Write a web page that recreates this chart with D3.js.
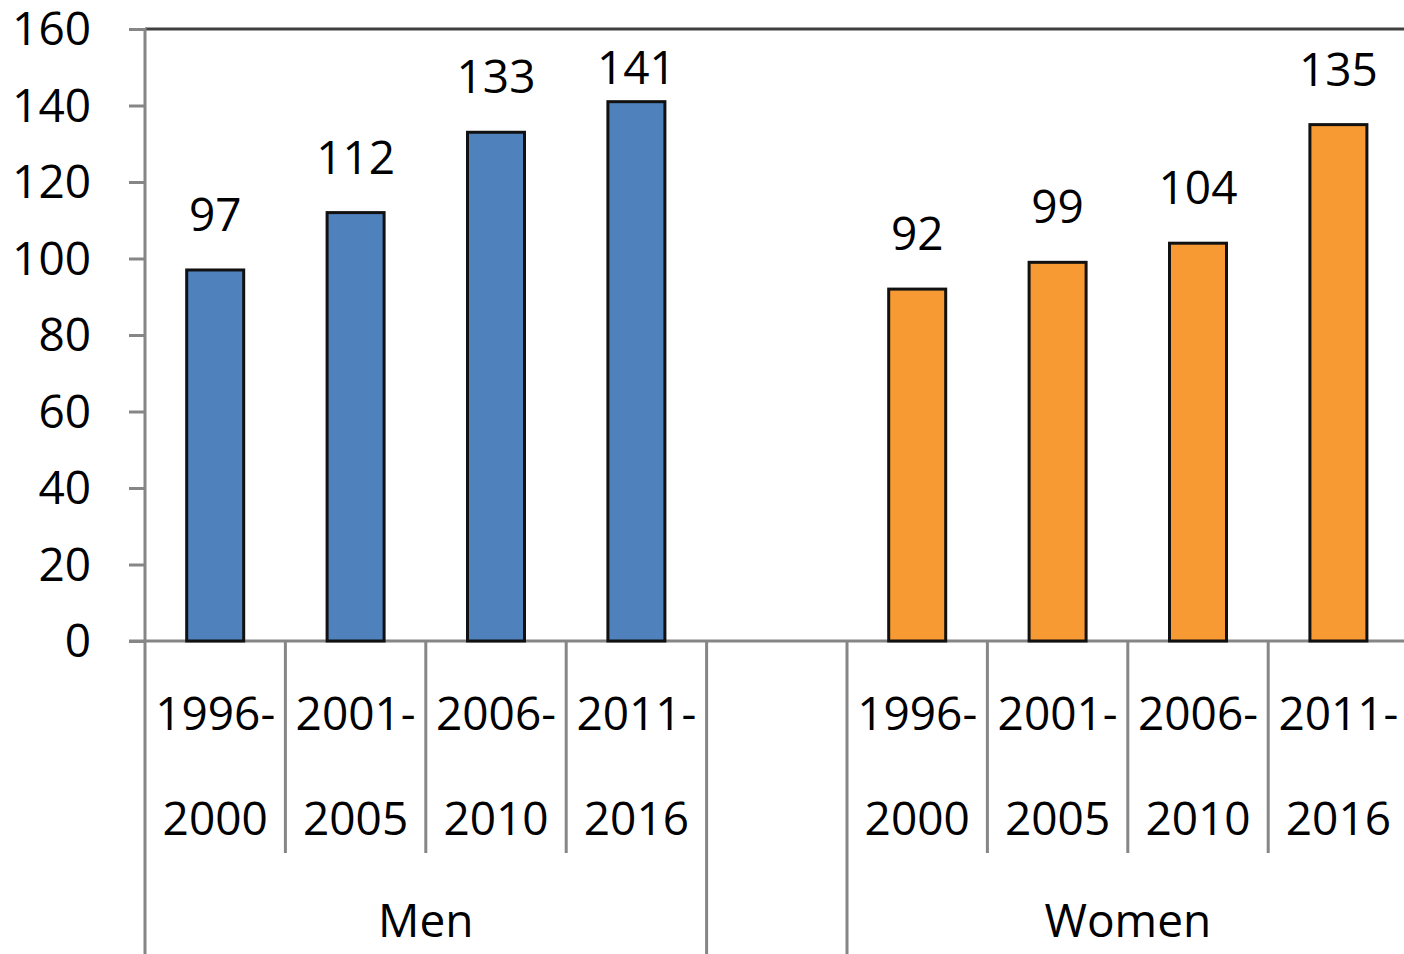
<!DOCTYPE html>
<html>
<head>
<meta charset="utf-8">
<script src="https://cdn.jsdelivr.net/npm/d3@7"></script>
<style>
  body { margin: 0; background: #fff; }
  text { font-family: "Open Sans", "Noto Sans", sans-serif; fill: #000; }
</style>
</head>
<body>
<div id="chart"></div>
<script>
// data
var periods = ['1996-2000', '2001-2005', '2006-2010', '2011-2016'];
var groups = ['Men', 'Women'];
var menValues = [97, 112, 133, 141];
var womenValues = [92, 99, 104, 135];
var yTicks = [0, 20, 40, 60, 80, 100, 120, 140, 160];
var colors = { Men: '#4f81bd', Women: '#f79a33' };

var width = 1404,
  height = 954,
  fs = 46;

var svg = d3.select('#chart').append('svg')
    .attr('width', width)
    .attr('height', height);

// slots: 4 men, 1 empty, 4 women
var slots = [];
periods.forEach(function(p) { slots.push('Men|' + p); });
slots.push('gap');
periods.forEach(function(p) { slots.push('Women|' + p); });

var rows = [];
periods.forEach(function(p, i) { rows.push({ group: 'Men', period: p, value: menValues[i] }); });
periods.forEach(function(p, i) { rows.push({ group: 'Women', period: p, value: womenValues[i] }); });

var x = d3.scaleBand()
    .domain(slots)
    .range([145, 145 + 9 * 140.4]);

var y = d3.scaleLinear()
    .domain([0, 160])
    .range([641, 29]);

// top border
svg.append('line')
    .attr('x1', 145).attr('x2', width)
    .attr('y1', y(160)).attr('y2', y(160))
    .attr('stroke', '#404040')
    .attr('stroke-width', 3);

// y axis
var yAxis = d3.axisLeft(y).tickValues(yTicks).tickSize(16).tickPadding(38);
var gy = svg.append('g')
    .attr('transform', 'translate(145,0)')
    .call(yAxis);
gy.select('.domain').remove();
gy.selectAll('.tick line').attr('stroke', '#868686').attr('stroke-width', 3);
gy.selectAll('.tick text')
    .attr('font-size', fs)
    .attr('dy', '0.34em')
    .style('font-family', '"Open Sans", sans-serif');

svg.append('line')
    .attr('x1', 145).attr('x2', 145)
    .attr('y1', y(160) - 1).attr('y2', height)
    .attr('stroke', '#868686')
    .attr('stroke-width', 3);

// baseline
svg.append('line')
    .attr('x1', 129).attr('x2', width)
    .attr('y1', y(0)).attr('y2', y(0))
    .attr('stroke', '#868686')
    .attr('stroke-width', 3);

// bars
var barW = 57;
svg.append('g').selectAll('rect')
  .data(rows)
  .enter().append('rect')
  .attr('x', function(d) { return x(d.group + '|' + d.period) + x.bandwidth() / 2 - barW / 2; })
  .attr('y', function(d) { return y(d.value); })
  .attr('width', barW)
  .attr('height', function(d) { return y(0) - y(d.value); })
  .attr('fill', function(d) { return colors[d.group]; })
  .attr('stroke', '#111')
  .attr('stroke-width', 3);

// value labels
svg.append('g').selectAll('text')
  .data(rows)
  .enter().append('text')
  .attr('x', function(d) { return x(d.group + '|' + d.period) + x.bandwidth() / 2; })
  .attr('y', function(d) { return Math.max(y(d.value) - 39, 84); })
  .attr('text-anchor', 'middle')
  .attr('font-size', fs)
  .text(function(d) { return d.value; });

// category dividers below axis
var divX = [];
slots.forEach(function(s, i) { if (i > 0) divX.push({ x: x(s), full: s === 'gap' || s === 'Women|' + periods[0] }); });
svg.append('g').selectAll('line')
  .data(divX)
  .enter().append('line')
  .attr('x1', function(d) { return d.x; })
  .attr('x2', function(d) { return d.x; })
  .attr('y1', y(0))
  .attr('y2', function(d) { return d.full ? height : 853; })
  .attr('stroke', '#868686')
  .attr('stroke-width', 3);

// period labels (two lines)
var lab = svg.append('g').selectAll('g')
  .data(rows)
  .enter().append('g')
  .attr('transform', function(d) { return 'translate(' + (x(d.group + '|' + d.period) + x.bandwidth() / 2) + ',0)'; });
lab.append('text')
  .attr('y', 730)
  .attr('text-anchor', 'middle')
  .attr('font-size', fs)
  .text(function(d) { return d.period.split('-')[0] + '-'; });
lab.append('text')
  .attr('y', 835)
  .attr('text-anchor', 'middle')
  .attr('font-size', fs)
  .text(function(d) { return d.period.split('-')[1]; });

// group labels
svg.append('g').selectAll('text')
  .data(groups)
  .enter().append('text')
  .attr('x', function(g) {
    return (x(g + '|' + periods[0]) + x(g + '|' + periods[3]) + x.bandwidth()) / 2;
  })
  .attr('y', 937)
  .attr('text-anchor', 'middle')
  .attr('font-size', fs)
  .text(function(g) { return g; });
</script>
</body>
</html>
